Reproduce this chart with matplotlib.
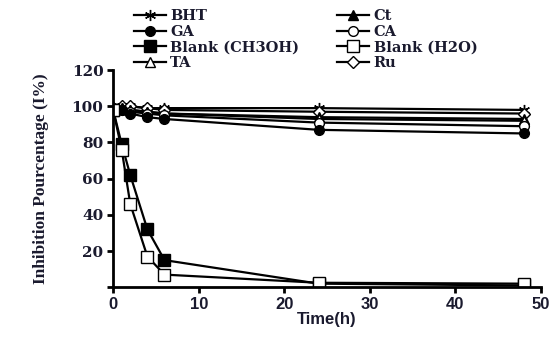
import matplotlib
matplotlib.use("Agg")
import matplotlib.pyplot as plt

# data
time_h = [0, 1, 2, 4, 6, 24, 48]
bht = [99, 100, 100, 99, 99, 99, 98]
ru = [99, 100, 100, 99, 98, 97, 96]
ct = [99, 99, 98, 97, 96, 94, 93]
ta = [99, 99, 98, 97, 96, 93, 92]
ca = [99, 98, 97, 96, 95, 91, 89]
ga = [99, 98, 96, 94, 93, 87, 85]
blank_ch3oh = [98, 79, 62, 32, 15, 2, 1]
blank_h2o = [98, 76, 46, 17, 7, 2.5, 2]

x_ticks = [0, 10, 20, 30, 40, 50]
y_ticks = [0, 20, 40, 60, 80, 100, 120]

txt_col = "#1a1a2e"

fig = plt.figure(figsize=(5.52, 3.42), dpi=100)
ax = fig.add_axes([0.205, 0.16, 0.775, 0.635])

kw = dict(color="black", lw=1.6, markeredgecolor="black", markeredgewidth=1.0)
h_bht, = ax.plot(time_h, bht, marker=(6, 2, 0), ms=8, label="BHT", **kw)
h_ru, = ax.plot(time_h, ru, marker="D", ms=6, mfc="white", label="Ru", **kw)
h_ct, = ax.plot(time_h, ct, marker="^", ms=7, mfc="black", label="Ct", **kw)
h_ta, = ax.plot(time_h, ta, marker="^", ms=7, mfc="white", label="TA", **kw)
h_ca, = ax.plot(time_h, ca, marker="o", ms=7, mfc="white", label="CA", **kw)
h_ga, = ax.plot(time_h, ga, marker="o", ms=7, mfc="black", label="GA", **kw)
h_b1, = ax.plot(time_h, blank_ch3oh, marker="s", ms=8, mfc="black",
                label="Blank (CH3OH)", **kw)
h_b2, = ax.plot(time_h, blank_h2o, marker="s", ms=8, mfc="white",
                label="Blank (H2O)", **kw)

ax.set_xlim(0, 50)
ax.set_ylim(0, 120)
ax.set_xticks(x_ticks)
ax.set_yticks(y_ticks)
ax.set_yticklabels([""] + [str(v) for v in y_ticks[1:]])
for s in ["top", "right"]:
    ax.spines[s].set_visible(False)
for s in ["left", "bottom"]:
    ax.spines[s].set_linewidth(2.0)
ax.tick_params(direction="out", width=2, length=4, colors="black",
               labelcolor=txt_col, pad=3)
for lab in ax.get_xticklabels():
    lab.set_fontfamily("Liberation Sans")
    lab.set_fontweight("bold")
    lab.set_fontsize(12)
for lab in ax.get_yticklabels():
    lab.set_fontfamily("DejaVu Serif")
    lab.set_fontweight("bold")
    lab.set_fontsize(11)

ax.set_xlabel("Time(h)", fontfamily="Liberation Sans", fontweight="bold",
              fontsize=12, color=txt_col, labelpad=0)
ax.set_ylabel("Inhibition Pourcentage (I%)", fontfamily="Liberation Serif",
              fontweight="bold", fontsize=12.5, color=txt_col, labelpad=16)

handles = [h_bht, h_ga, h_b1, h_ta, h_ct, h_ca, h_b2, h_ru]
leg = fig.legend(handles=handles, labels=[h.get_label() for h in handles],
                 ncol=2, frameon=False, loc="upper left",
                 bbox_to_anchor=(0.232, 0.99), handlelength=2.2,
                 handletextpad=0.3, columnspacing=2.6, labelspacing=0.1,
                 borderaxespad=0,
                 prop=dict(family="DejaVu Serif", weight="bold", size=10.5))
for t in leg.get_texts():
    t.set_color(txt_col)

fig.savefig("out.png", dpi=100)
